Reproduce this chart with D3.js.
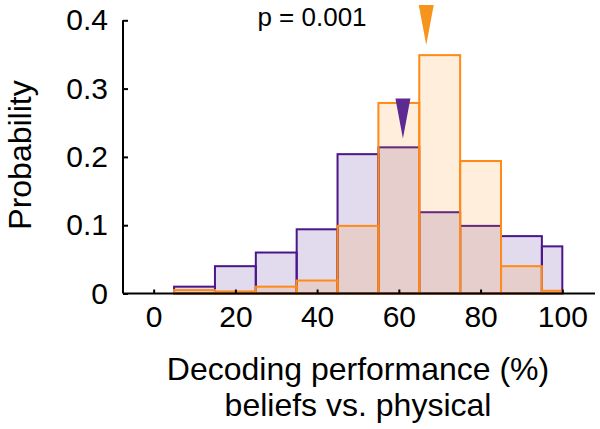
<!DOCTYPE html>
<html>
<head>
<meta charset="utf-8">
<script src="https://cdn.jsdelivr.net/npm/d3@7"></script>
<style>
  html, body { margin: 0; padding: 0; background: #fff; }
  svg { display: block; font-family: "Liberation Sans", Arial, Helvetica, sans-serif; }
</style>
</head>
<body>
<svg id="chart" width="600" height="429"></svg>
<script>
// ---- data ----
const binEdges = [5, 15, 25, 35, 45, 55, 65, 75, 85, 95, 100];
const purpleValues = [0.01, 0.04, 0.06, 0.094, 0.204, 0.214, 0.119, 0.099, 0.084, 0.069];
const orangeValues = [0.005, 0.003, 0.01, 0.019, 0.099, 0.279, 0.349, 0.194, 0.04, 0.004];
const markerX = [61, 66.7];          // purple mean, orange mean
const markerTipY = [0.227, 0.364];   // tip heights of the mean markers
const xTicks = [0, 20, 40, 60, 80, 100];
const yTicks = [0, 0.1, 0.2, 0.3, 0.4];
const pText = "p = 0.001";
const xTitle = ["Decoding performance (%)", "beliefs vs. physical"];
const yTitle = "Probability";

// ---- layout ----
const svg = d3.select("#chart");
const x = d3.scaleLinear().domain([-7.5, 108]).range([123, 595]);
const y = d3.scaleLinear().domain([0, 0.4]).range([293.5, 20.3]);

const purple = { stroke: "#4b1689", fill: "rgba(110,70,165,0.2)", marker: "#5c2a90" };
const orange = { stroke: "#ff8a17", fill: "rgba(255,140,20,0.15)", marker: "#f7941d" };

function bars(values, col, cls) {
  const data = values.map((v, i) => ({ x0: binEdges[i], x1: binEdges[i + 1], v }));
  svg.append("g").attr("class", cls)
    .selectAll("rect").data(data).join("rect")
    .attr("x", d => x(d.x0))
    .attr("width", d => x(d.x1) - x(d.x0))
    .attr("y", d => y(d.v))
    .attr("height", d => y(0) - y(d.v))
    .attr("fill", col.fill)
    .attr("stroke", col.stroke)
    .attr("stroke-width", 2);
}
bars(purpleValues, purple, "purple");
bars(orangeValues, orange, "orange");

// axes
const xAxis = d3.axisBottom(x).tickValues(xTicks).tickSize(-4).tickPadding(12).tickFormat(d3.format("d"));
const gx = svg.append("g").attr("transform", `translate(0,${y(0)})`).call(xAxis);
gx.select(".domain").attr("d", `M${x(-7.5)},0H${x(108)}`).attr("stroke", "#000").attr("stroke-width", 2);
gx.selectAll(".tick line").attr("stroke", "#000").attr("stroke-width", 2);
gx.selectAll(".tick text").attr("font-size", 30).attr("fill", "#000")
  .attr("font-family", "'Liberation Sans', Arial, sans-serif").attr("dy", "0.71em");

const yAxis = d3.axisLeft(y).tickValues(yTicks).tickSize(-5).tickPadding(15)
  .tickFormat(d => d === 0 ? "0" : d3.format(".1f")(d));
const gy = svg.append("g").attr("transform", `translate(${x(-7.5)},0)`).call(yAxis);
gy.select(".domain").attr("d", `M0,${y(0.4)}V${y(0)}`).attr("stroke", "#000").attr("stroke-width", 2);
gy.selectAll(".tick line").attr("stroke", "#000").attr("stroke-width", 2);
gy.selectAll(".tick text").attr("font-size", 30).attr("fill", "#000")
  .attr("font-family", "'Liberation Sans', Arial, sans-serif");

// mean markers (downward triangles)
const markers = [
  { x: markerX[0], tip: markerTipY[0], c: purple.marker },
  { x: markerX[1], tip: markerTipY[1], c: orange.marker }
];
svg.append("g").selectAll("path").data(markers).join("path")
  .attr("d", d => {
    const cx = x(d.x), ty = y(d.tip);
    return `M${cx},${ty}L${cx - 7.5},${ty - 40}L${cx + 7.5},${ty - 40}Z`;
  })
  .attr("fill", d => d.c);

// p-value text
svg.append("text").attr("x", 312).attr("y", 26).attr("text-anchor", "middle")
  .attr("font-size", 26).attr("fill", "#000").text(pText);

// axis titles (two separate lines)
svg.append("g").selectAll("text").data(xTitle).join("text")
  .attr("text-anchor", "middle").attr("font-size", 32).attr("fill", "#000")
  .attr("x", 358).attr("y", (d, i) => 380 + i * 36).text(d => d);

svg.append("text").attr("transform", "translate(31,155) rotate(-90)")
  .attr("text-anchor", "middle").attr("font-size", 32).attr("fill", "#000").text(yTitle);
</script>
</body>
</html>
